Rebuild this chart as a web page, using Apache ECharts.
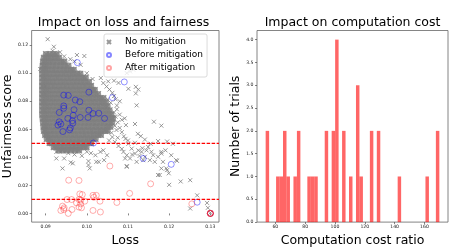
<!DOCTYPE html>
<html><head><meta charset="utf-8">
<script src="https://cdn.jsdelivr.net/npm/echarts@6/dist/echarts.min.js"></script>
<style>html,body{margin:0;padding:0;background:#fff}#c{width:467px;height:252px}</style>
</head><body><div id="c"></div>
<script>
// ---- Data ----
// Dense "No mitigation" cloud, by rows: unfairness y first, then loss values of that row
const denseRows = [
[.1136,.0901,.0910,.0919,.0926],
[.1110,.0896,.0904,.0913,.0923,.0932],
[.1082,.0894,.0900,.0909,.0918,.0928,.0938,.0945],
[.1053,.0893,.0899,.0907,.0917,.0926,.0936,.0946,.0955],
[.1024,.0892,.0898,.0905,.0915,.0924,.0934,.0944,.0953,.0962,.0968],
[.0996,.0892,.0900,.0909,.0919,.0929,.0939,.0948,.0958,.0967,.0976,.0984],
[.0967,.0892,.0897,.0905,.0914,.0924,.0933,.0943,.0953,.0962,.0972,.0981,.0990,.0997],
[.0938,.0892,.0900,.0909,.0918,.0928,.0938,.0947,.0957,.0967,.0976,.0986,.0995,.1005],
[.0909,.0892,.0897,.0904,.0914,.0923,.0933,.0943,.0952,.0962,.0971,.0981,.0991,.1000,.1010],
[.0880,.0892,.0900,.0908,.0918,.0928,.0937,.0947,.0957,.0966,.0976,.0985,.0995,.1005,.1014,.1019],
[.0851,.0892,.0897,.0904,.0913,.0923,.0933,.0942,.0952,.0961,.0971,.0981,.0990,.1000,.1009,.1019,.1027],
[.0822,.0892,.0900,.0909,.0918,.0928,.0938,.0947,.0957,.0966,.0976,.0986,.0995,.1005,.1014,.1024,.1033,.1040],
[.0793,.0892,.0897,.0904,.0914,.0923,.0933,.0942,.0952,.0962,.0971,.0981,.0990,.1000,.1010,.1019,.1029,.1038,.1046],
[.0764,.0892,.0900,.0908,.0918,.0928,.0937,.0947,.0956,.0966,.0976,.0985,.0995,.1004,.1014,.1024,.1033,.1043,.1050],
[.0735,.0892,.0897,.0905,.0914,.0924,.0934,.0943,.0953,.0962,.0972,.0981,.0991,.1001,.1010,.1020,.1029,.1039,.1048,.1055],
[.0706,.0892,.0900,.0909,.0918,.0928,.0937,.0947,.0957,.0966,.0976,.0985,.0995,.1005,.1014,.1024,.1033,.1043,.1052,.1059],
[.0677,.0893,.0898,.0905,.0915,.0924,.0934,.0944,.0953,.0963,.0972,.0982,.0991,.1001,.1011,.1020,.1030,.1039,.1049,.1058,.1063],
[.0648,.0894,.0900,.0909,.0919,.0928,.0938,.0948,.0957,.0967,.0976,.0986,.0996,.1005,.1015,.1024,.1034,.1043,.1053,.1061],
[.0619,.0895,.0899,.0907,.0916,.0926,.0935,.0945,.0955,.0964,.0974,.0983,.0993,.1003,.1012,.1022,.1031,.1041,.1050,.1057],
[.0590,.0896,.0901,.0911,.0920,.0930,.0940,.0949,.0959,.0968,.0978,.0988,.0997,.1007,.1016,.1026,.1035,.1044,.1050],
[.0561,.0899,.0904,.0913,.0923,.0932,.0942,.0951,.0961,.0971,.0980,.0990,.0999,.1009,.1018,.1027,.1034],
[.0532,.0903,.0909,.0918,.0928,.0937,.0947,.0957,.0966,.0976,.0985,.0995,.1004,.1013,.1021],
[.0503,.0910,.0915,.0925,.0934,.0944,.0954,.0963,.0973,.0982,.0992,.1001,.1010],
[.0474,.0920,.0926,.0936,.0945,.0955,.0965,.0974,.0984,.0993,.0999],
[.0450,.0932,.0941,.0951,.0961,.0971,.0981]
];
// Sparse "No mitigation" points [loss, unfairness]
const sparsePoints = [
[.0905,.1243],[.0920,.1189],[.0917,.1160],[.0887,.1030],[.0976,.1130],[.0994,.1123],[.0935,.1150],[.0945,.1120],
[.0960,.1100],[.0970,.1085],[.0985,.1060],[.1000,.1000],[.1014,.0959],[.1034,.0966],[.1052,.0942],[.1066,.0947],
[.1077,.0931],[.1097,.1001],[.1105,.1013],[.1113,.1025],[.1119,.0903],[.1125,.0884],[.1119,.0856],[.1101,.0889],
[.1121,.0771],[.1092,.0678],[.1117,.0638],[.1163,.0654],[.1181,.0626],[.1124,.0568],[.1131,.0551],[.1141,.0527],
[.1155,.0497],[.1173,.0516],[.1195,.0513],[.1209,.0497],[.1191,.0450],[.1181,.0439],[.1219,.0375],[.1195,.0309],
[.1199,.0286],[.1173,.0274],[.1200,.0204],[.1228,.0228],[.1251,.0237],[.1268,.0129],[.1251,.0035],[.1292,.0075],
[.1294,.0040],[.1300,.0005],[.1097,.0338],[.1117,.0504],[.1077,.0481],[.1054,.0520],
[.1089,.0439],[.1097,.0415],[.1105,.0392],[.1117,.0427],[.1121,.0368],[.1133,.0439],[.1141,.0404],[.1145,.0450],
[.1149,.0474],[.1153,.0380],[.1161,.0415],[.1165,.0368],[.1173,.0404],[.1181,.0427],[.1185,.0368],[.1193,.0321],
[.1205,.0415],[.1217,.0380],[.1181,.0321],[.1177,.0274],[.1097,.0333],[.1093,.0392],[.1110,.0420],[.1128,.0410],
[.1137,.0380],[.1157,.0440],[.1125,.0450],[.1135,.0465],
[.1040,.0930],[.1048,.0905],[.1055,.0884],[.1062,.0860],[.1066,.0837],[.1070,.0814],[.1050,.0814],[.1058,.0790],
[.1073,.0770],[.1080,.0800],[.1073,.0743],[.1066,.0720],[.1080,.0705],[.1070,.0690],[.1085,.0668],[.1075,.0650],
[.1068,.0625],[.1080,.0610],[.1095,.0630],[.1072,.0595],[.1060,.0575],[.1085,.0580],[.1062,.0545],[.1075,.0540],
[.1068,.0510],[.1090,.0550],[.1100,.0520],[.1085,.0460],[.1094,.0532],[.1101,.0497],[.1109,.0462],
[.1004,.0373],[.1004,.0345],[.1007,.0321],[.1023,.0368],[.1042,.0380],[.1029,.0368],[.1049,.0415],[.1021,.0415],
[.1033,.0439],[.1010,.0430],[.1040,.0450],[.1000,.0440],
[.0926,.0439],[.0926,.0392],[.0941,.0321],[.0945,.0392],[.0961,.0364],[.0966,.0357],[.0988,.0411],[.0970,.0420],[.0955,.0430]
];
// "Before mitigation" [loss, unfairness]
const beforePoints = [
[.0977,.1076],[.1005,.0865],[.1091,.0938],[.1062,.0826],[.0944,.0844],[.0955,.0842],[.0972,.0809],[.0983,.0797],
[.0944,.0767],[.0944,.0750],[.0933,.0720],[.0969,.0740],[.0967,.0700],[.1005,.0736],[.1029,.0715],[.1015,.0713],
[.1003,.0685],[.1043,.0678],[.0933,.0654],[.0965,.0661],[.0960,.0610],[.0930,.0630],[.0937,.0638],[.0954,.0678],
[.0984,.0685],[.0966,.0643],[.0942,.0584],[.0958,.0596],[.1016,.0502],[.1137,.0392],[.1205,.0350],[.1268,.0080],[.1300,.0000]
];
// "After mitigation" [loss, unfairness]
const afterPoints = [
[.1056,.0338],[.0956,.0237],[.0981,.0235],[.1155,.0211],[.1104,.0143],[.0952,.0099],[.0963,.0099],[.0983,.0139],
[.0989,.0134],[.0981,.0099],[.0985,.0094],[.0995,.0087],[.1015,.0129],[.1023,.0129],[.1017,.0115],[.1032,.0087],
[.1073,.0078],[.0941,.0052],[.0945,.0040],[.0937,.0021],[.0944,.0028],[.0955,.0000],[.0964,.0028],[.0975,.0075],
[.0981,.0045],[.0987,.0040],[.0985,.0068],[.1015,.0021],[.1033,.0010],[.1255,.0068],[.1300,.0000],[.1300,.0000],[.1300,.0000],[.1300,.0000]
];
const thresholds = [0.05, 0.01];
const lossTicks = [0.09, 0.10, 0.11, 0.12, 0.13];
const unfairTicks = [0, 0.02, 0.04, 0.06, 0.08, 0.10, 0.12];
// Histogram of computation cost ratio: 50 bins over [53.5, 170]
const costRange = [53.5, 170.0];
const costCounts = [2,0,0,1,1,2,1,0,1,2, 0,0,1,1,1,0,0,2,0,2, 4,0,2,0,1,0,3,1,0,0, 2,0,2,0,0,0,0,0,1,0, 0,0,0,0,0,0,1,0,0,2];
const costTicks = [60, 80, 100, 120, 140, 160];
const countTicks = [0, 0.5, 1, 1.5, 2, 2.5, 3, 3.5, 4];

// ---- Build ----
const densePoints = [];
denseRows.forEach(r => { for (let i = 1; i < r.length; i++) densePoints.push([r[i], r[0]]); });
const bw = (costRange[1] - costRange[0]) / costCounts.length;
const histData = [];
costCounts.forEach((c, i) => { if (c > 0) histData.push([costRange[0] + i * bw, costRange[0] + (i + 1) * bw, c]); });

const FONT = 'DejaVu Sans';
const X = 'path://M0,0L10,10M10,0L0,10';
const grey = '#808080';
const tickLbl = {fontSize: 4.6, color: '#222', fontFamily: FONT};
function axisCommon(ticks, fmt, isX) {
  return {
    type: 'value', scale: true,
    splitLine: {show: false},
    axisLine: {show: false},
    axisTick: {show: true, length: 2, lineStyle: {color: '#333', width: 0.6}, customValues: ticks},
    axisLabel: Object.assign({customValues: ticks, formatter: fmt, margin: isX ? 2 : 3.5}, tickLbl),
    nameLocation: 'middle',
    nameTextStyle: {fontSize: 12.5, fontFamily: FONT, color: '#000'}
  };
}
const chart = echarts.init(document.getElementById('c'), null, {renderer: 'canvas'});
chart.setOption({
  animation: false,
  backgroundColor: '#fff',
  grid: [
    {left: 28, top: 30.5, width: 191, height: 194, show: true, borderColor: '#666', borderWidth: 0.8, backgroundColor: 'transparent'},
    {left: 257, top: 30.5, width: 191, height: 194, show: true, borderColor: '#666', borderWidth: 0.8, backgroundColor: 'transparent'}
  ],
  xAxis: [
    Object.assign(axisCommon(lossTicks, v => v.toFixed(2), true), {gridIndex: 0, min: 0.0866, max: 0.1321, name: 'Loss', nameGap: 8}),
    Object.assign(axisCommon(costTicks, v => String(Math.round(v)), true), {gridIndex: 1, min: 47.7, max: 175.8, name: 'Computation cost ratio', nameGap: 8})
  ],
  yAxis: [
    Object.assign(axisCommon(unfairTicks, v => v.toFixed(2), false), {gridIndex: 0, min: -0.0062, max: 0.1305, name: 'Unfairness score', nameGap: 12}),
    Object.assign(axisCommon(countTicks, v => v.toFixed(1), false), {gridIndex: 1, min: 0, max: 4.2, name: 'Number of trials', nameGap: 12})
  ],
  legend: {
    left: 104, top: 34, orient: 'vertical',
    padding: [2.5, 4, 3.5, 2],
    itemWidth: 22, itemHeight: 4, itemGap: 2,
    backgroundColor: 'rgba(255,255,255,0.8)', borderColor: '#d0d0d0', borderWidth: 0.8, borderRadius: 2,
    textStyle: {fontSize: 9, fontFamily: FONT, color: '#000', lineHeight: 11},
    selectedMode: false,
    data: ['No mitigation', 'Before mitigation', 'After mitigation']
  },
  graphic: [
    {type: 'text', x: 123.5, y: 22.7, style: {text: 'Impact on loss and fairness', font: '12.5px "DejaVu Sans"', fill: '#000', align: 'center', verticalAlign: 'middle'}},
    {type: 'text', x: 352.5, y: 22.7, style: {text: 'Impact on computation cost', font: '12.5px "DejaVu Sans"', fill: '#000', align: 'center', verticalAlign: 'middle'}}
  ],
  series: [
    {name: 'No mitigation', type: 'scatter', xAxisIndex: 0, yAxisIndex: 0, data: sparsePoints, symbol: X, symbolSize: 4,
     itemStyle: {color: 'rgba(0,0,0,0)', borderColor: grey, borderWidth: 1}, emphasis: {disabled: true}, silent: true},
    {name: 'No mitigation', type: 'scatter', xAxisIndex: 0, yAxisIndex: 0, data: densePoints, symbol: 'circle', symbolSize: 6.5,
     itemStyle: {color: grey}, emphasis: {disabled: true}, silent: true},
    {name: 'No mitigation', type: 'scatter', xAxisIndex: 0, yAxisIndex: 0, data: densePoints, symbol: X, symbolSize: 6,
     itemStyle: {color: 'rgba(0,0,0,0)', borderColor: grey, borderWidth: 1.2}, emphasis: {disabled: true}, silent: true},
    {name: 'Before mitigation', type: 'scatter', xAxisIndex: 0, yAxisIndex: 0, data: beforePoints, symbol: 'circle', symbolSize: 6,
     itemStyle: {color: 'rgba(0,0,0,0)', borderColor: 'rgba(0,0,255,0.6)', borderWidth: 0.9}, emphasis: {disabled: true}, silent: true},
    {name: 'After mitigation', type: 'scatter', xAxisIndex: 0, yAxisIndex: 0, data: afterPoints, symbol: 'circle', symbolSize: 6,
     itemStyle: {color: 'rgba(0,0,0,0)', borderColor: 'rgba(255,0,0,0.45)', borderWidth: 0.9}, emphasis: {disabled: true}, silent: true},
    {name: 'thresholds', type: 'custom', xAxisIndex: 0, yAxisIndex: 0, data: thresholds.map(t => [t]),
     dimensions: ['unfairness'], encode: {y: 0}, silent: true, z: 10, clip: false,
     renderItem: function (params, api) {
       const cs = params.coordSys;
       const y = api.coord([lossTicks[0], api.value(0)])[1];
       return {type: 'line', shape: {x1: cs.x, y1: y, x2: cs.x + cs.width, y2: y},
               style: {stroke: '#ff0000', lineWidth: 1.2, lineDash: [3.5, 1.5], fill: null}};
     }},
    {name: 'cost', type: 'custom', xAxisIndex: 1, yAxisIndex: 1, data: histData, encode: {x: [0, 1], y: 2}, silent: true,
     renderItem: function (params, api) {
       const p0 = api.coord([api.value(0), api.value(2)]);
       const p1 = api.coord([api.value(1), 0]);
       return {type: 'rect', shape: {x: p0[0], y: p0[1], width: p1[0] - p0[0], height: p1[1] - p0[1]},
               style: {fill: 'rgba(255,0,0,0.6)'}};
     }}
  ]
});
</script></body></html>
